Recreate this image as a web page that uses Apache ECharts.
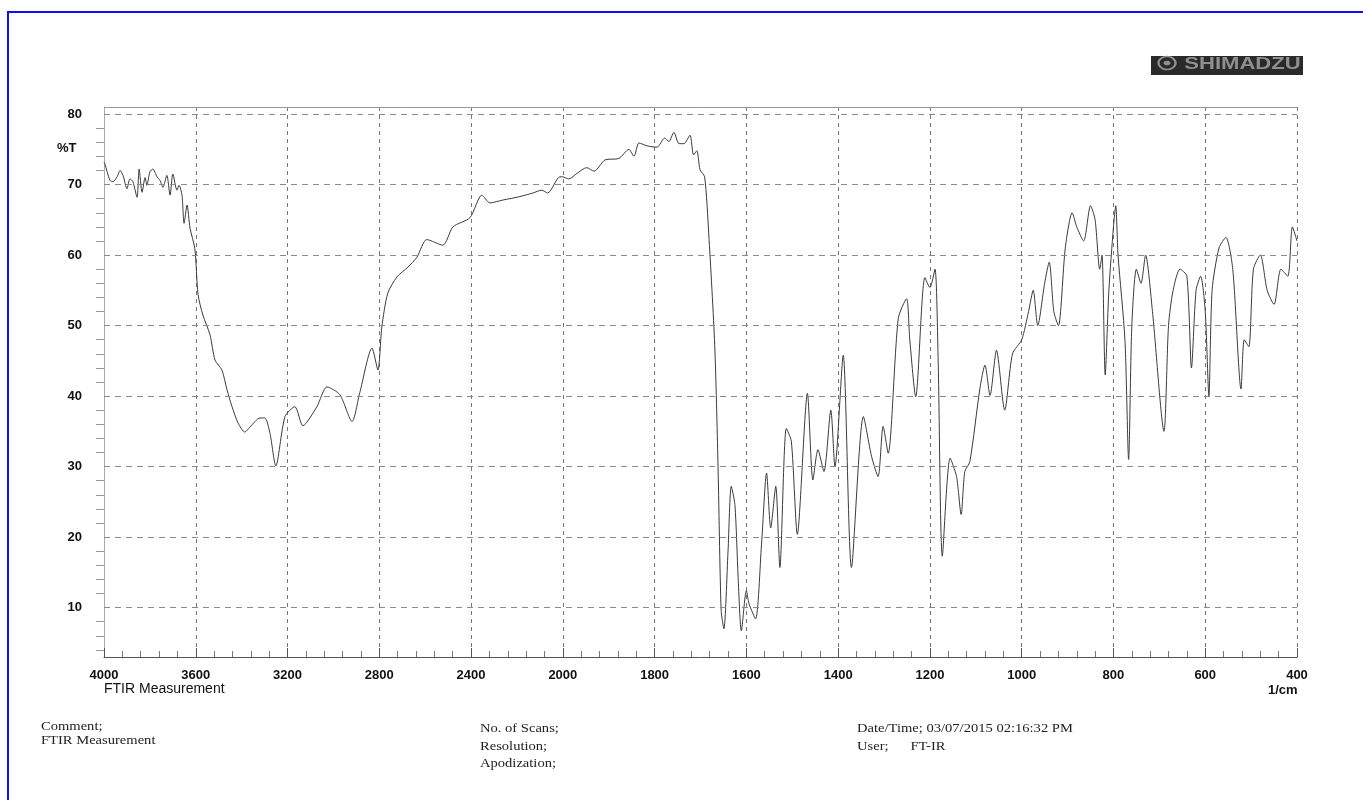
<!DOCTYPE html>
<html>
<head>
<meta charset="utf-8">
<title>FTIR Measurement</title>
<script src="https://cdn.jsdelivr.net/npm/echarts@6/dist/echarts.min.js"></script>
<style>
  html, body { margin: 0; padding: 0; background: #fff; }
  #main { position: absolute; left: 0; top: 0; width: 1363px; height: 800px; }
  #frame { position: absolute; left: 7px; top: 11px; right: -4px; bottom: -4px;
           border-top: 2px solid #1010ee; border-left: 2px solid #1010ee; pointer-events: none; }
</style>
</head>
<body>
<div id="main"></div>
<div id="frame"></div>
<script>
// wavenumber (1/cm) and transmittance (%T)
const wavenumbers = [
  4000, 3996, 3974, 3961, 3943, 3930, 3917, 3900, 3887, 3874, 3856, 3847, 3834, 3821, 3813, 3800,
  3787, 3769, 3756, 3743, 3726, 3712, 3700, 3682, 3673, 3660, 3651, 3638, 3625, 3604, 3590, 3569,
  3538, 3516, 3486, 3464, 3442, 3416, 3386, 3364, 3320, 3299, 3277, 3251, 3211, 3168, 3133, 3072,
  3028, 2972, 2919, 2885, 2832, 2806, 2789, 2763, 2723, 2675, 2636, 2593, 2523, 2479, 2405, 2353,
  2318, 2262, 2187, 2131, 2092, 2066, 2013, 2002, 1987, 1969, 1948, 1932, 1908, 1878, 1856, 1845,
  1834, 1817, 1795, 1778, 1769, 1758, 1747, 1736, 1723, 1715, 1708, 1701, 1691, 1682, 1669, 1662,
  1655, 1649, 1640, 1633, 1625, 1618, 1611, 1600, 1594, 1580, 1567, 1556, 1547, 1536, 1527, 1513,
  1502, 1489, 1467, 1455, 1444, 1431, 1416, 1407, 1389, 1371, 1345, 1327, 1313, 1302, 1291, 1269,
  1251, 1244, 1231, 1211, 1200, 1189, 1182, 1173, 1156, 1142, 1132, 1124, 1113, 1091, 1080, 1069,
  1055, 1037, 1020, 1000, 985, 975, 965, 950, 940, 930, 920, 905, 890, 880, 865, 850,
  840, 830, 825, 818, 810, 800, 795, 790, 775, 767, 760, 750, 740, 730, 715, 690,
  680, 670, 655, 640, 630, 620, 610, 600, 592, 585, 570, 555, 540, 522, 515, 505,
  495, 480, 465, 450, 435, 420, 410, 400
];
const transmittance = [
  73.2, 72.9, 70.6, 70.4, 71.1, 72.0, 71.3, 69.4, 70.8, 70.4, 68.2, 72.2, 68.9, 71.0, 69.9, 71.8,
  72.2, 71.1, 70.6, 69.6, 71.3, 68.5, 71.5, 69.2, 69.9, 68.5, 64.5, 67.1, 63.8, 60.9, 54.4, 51.5,
  48.7, 45.1, 43.7, 40.9, 38.5, 36.2, 34.9, 35.6, 36.9, 36.9, 34.8, 30.1, 37.1, 38.5, 35.8, 38.5,
  41.3, 40.2, 36.4, 40.5, 46.8, 43.7, 49.8, 54.6, 56.9, 58.3, 59.7, 62.2, 61.4, 64.0, 65.3, 68.5,
  67.4, 67.8, 68.3, 68.8, 69.2, 68.8, 71.1, 71.1, 70.8, 71.6, 72.4, 71.9, 73.5, 73.7, 75.0, 74.0,
  75.9, 75.5, 75.3, 76.6, 76.1, 77.4, 75.8, 75.8, 77.0, 74.2, 74.8, 72.1, 71.1, 63.0, 47.2, 30.7,
  9.6, 7.0, 18.0, 27.2, 24.6, 14.3, 6.7, 12.4, 10.5, 8.4, 19.0, 29.1, 21.3, 27.2, 15.7, 35.4,
  33.6, 20.4, 40.4, 28.1, 32.4, 29.3, 38.0, 30.0, 45.8, 15.7, 37.1, 31.4, 28.6, 35.7, 31.9, 51.0,
  53.8, 48.1, 39.9, 56.8, 55.4, 58.0, 44.8, 17.3, 31.2, 28.6, 23.2, 29.3, 30.7, 41.1, 44.4, 40.1,
  46.5, 38.0, 46.0, 48.0, 52.0, 55.0, 50.0, 56.0, 59.0, 52.0, 50.0, 61.0, 66.0, 64.0, 62.0, 67.0,
  65.0, 58.0, 60.0, 43.0, 55.0, 64.0, 67.0, 60.0, 48.0, 31.0, 50.0, 58.0, 56.0, 60.0, 52.0, 35.0,
  50.0, 55.0, 58.0, 57.0, 44.0, 55.0, 57.0, 52.0, 40.0, 55.0, 61.0, 62.5, 58.0, 41.0, 48.0, 47.0,
  58.0, 60.0, 55.0, 53.0, 58.0, 57.0, 64.0, 62.0
];
const tickLabels = [4000, 3600, 3200, 2800, 2400, 2000, 1800, 1600, 1400, 1200, 1000, 800, 600, 400];
const yLabels = [10, 20, 30, 40, 50, 60, 70, 80];

// the chart paper doubles its scale below 2000 1/cm
function toPos(w) {
  return w >= 2000 ? (4000 - w) / 400 : 5 + (2000 - w) / 200;
}

const chart = echarts.init(document.getElementById('main'));
const lineData = wavenumbers.map((w, i) => [toPos(w), transmittance[i]]);

const gridStyle = { color: '#8a8a8a', type: [6, 5], width: 1 };
const sans = '"Liberation Sans", Arial, sans-serif';
const serif = '"Liberation Serif", "Times New Roman", serif';

const option = {
  animation: false,
  grid: { left: 104, right: 66, top: 107, bottom: 143 },
  xAxis: {
    type: 'value',
    min: 0,
    max: 13,
    interval: 1,
    axisLine: { show: true, lineStyle: { color: '#555', width: 1 } },
    axisTick: { show: true, inside: true, length: 9, lineStyle: { color: '#555' } },
    minorTick: { show: true, splitNumber: 5, length: 6, lineStyle: { color: '#777' } },
    axisLabel: {
      formatter: v => String(tickLabels[Math.round(v)]),
      color: '#111',
      fontFamily: sans,
      fontWeight: 'bold',
      fontSize: 13,
      margin: 12
    },
    splitLine: { show: true, lineStyle: { color: '#777', type: [4, 4], width: 1 } }
  },
  yAxis: {
    type: 'value',
    min: 3,
    max: 81,
    axisLine: { show: true, lineStyle: { color: '#aaa', width: 1 } },
    axisTick: {
      show: true, inside: false, length: 8,
      customValues: [4, 6, 8, 12, 14, 16, 18, 22, 24, 26, 28, 32, 34, 36, 38, 42, 44, 46, 48,
                     52, 54, 56, 58, 62, 64, 66, 68, 72, 74, 76, 78],
      lineStyle: { color: '#999' }
    },
    axisLabel: {
      customValues: yLabels,
      color: '#111',
      fontFamily: sans,
      fontWeight: 'bold',
      fontSize: 13,
      margin: 22
    },
    splitLine: { show: false }
  },
  series: [
    {
      type: 'line',
      data: lineData,
      showSymbol: false,
      smooth: 0.25,
      lineStyle: { color: '#3a3a3a', width: 1 },
      markLine: {
        silent: true,
        symbol: 'none',
        label: { show: false },
        lineStyle: gridStyle,
        data: yLabels.map(v => ({ yAxis: v })).concat([
          { yAxis: 81, lineStyle: { color: '#999', type: 'solid', width: 1 } }
        ])
      }
    }
  ],
  graphic: [
    { type: 'text', left: 57, top: 142,
      style: { text: '%T', font: 'bold 13px ' + sans, fill: '#111' } },
    { type: 'text', left: 104, top: 682,
      style: { text: 'FTIR Measurement', font: '14px ' + sans, fill: '#111' } },
    { type: 'text', left: 1268, top: 684,
      style: { text: '1/cm', font: 'bold 13px ' + sans, fill: '#111' } },
    { type: 'rect', left: 1151, top: 56, shape: { width: 152, height: 19 },
      style: { fill: '#2a2a2a' } },
    { type: 'text', x: 1156, y: 57, scaleX: 1.38,
      style: { text: '\u29BF SHIMADZU', font: 'bold 16px ' + sans, fill: '#8f8f8f' } },
    { type: 'text', x: 41, y: 720, scaleX: 1.12,
      style: { text: 'Comment;\nFTIR Measurement', font: '13px ' + serif,
               fill: '#222', lineHeight: 14 } },
    { type: 'text', x: 480, y: 720, scaleX: 1.12,
      style: { text: 'No. of Scans;\nResolution;\nApodization;',
               font: '13px ' + serif, fill: '#222', lineHeight: 17.5 } },
    { type: 'text', x: 857, y: 720, scaleX: 1.12,
      style: { text: 'Date/Time; 03/07/2015 02:16:32 PM\nUser;      FT-IR',
               font: '13px ' + serif, fill: '#222', lineHeight: 17.5 } }
  ]
};

chart.setOption(option);
</script>
</body>
</html>
